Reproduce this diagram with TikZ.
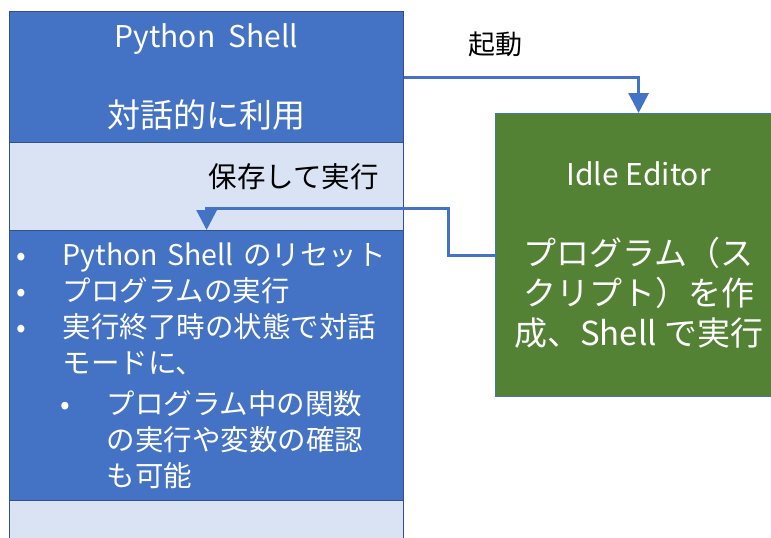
\documentclass[tikz,border=0pt]{standalone}
\usepackage{fontspec}
\setmainfont{Noto Sans CJK JP}
\usetikzlibrary{arrows.meta,positioning,calc}
\definecolor{shblue}{RGB}{68,114,196}
\definecolor{shdark}{RGB}{47,82,143}
\definecolor{shlight}{RGB}{218,227,243}
\definecolor{edgreen}{RGB}{84,130,53}

\newcommand{\topitem}[1]{\makebox[48pt][l]{\hspace{2pt}•}#1}
\newcommand{\nesteditem}[1]{\hspace{46pt}\makebox[46pt][l]{•}#1}
\newcommand{\bigjp}{\fontsize{33}{41}\selectfont}

\begin{document}
\begin{tikzpicture}[x=1pt,y=-1pt,
  bluebox/.style={draw=shdark, line width=1.2pt, fill=shblue, text=white,
    minimum width=394pt, inner sep=0pt, anchor=north west},
  lightbox/.style={draw=shdark, line width=1.2pt, fill=shlight,
    minimum width=394pt, inner sep=0pt, anchor=north west},
  flow/.style={draw=shblue, line width=3pt,
    -{Triangle[length=20pt,width=20pt]}},
  bigtext/.style={font=\fontsize{30}{40}\selectfont, align=center},
  listtext/.style={font=\fontsize{28.5}{36}\selectfont, align=left}]
\useasboundingbox (0,0) rectangle (771,538);
% Left column
\node[bluebox, bigtext, minimum height=131pt] (shell) at (9,11)
  {Python\ \ Shell\\[0pt] \\ {\bigjp 対話的に利用}};
\node[lightbox, minimum height=88pt] (band) at (9,142) {};
\node[bluebox, listtext, minimum height=270pt, text width=384pt] (reset) at (9,230)
  {\topitem{Python Shell のリセット}\\
   \topitem{プログラムの実行}\\
   \topitem{実行終了時の状態で対話}\\
   \hspace{48pt}モードに、\\[5pt]
   \nesteditem{プログラム中の関数}\\
   \hspace{92pt}の実行や変数の確認\\
   \hspace{92pt}も可能};
\node[lightbox, minimum height=48pt] (tail) at (9,500) {};
\node[listtext, anchor=east] (savelbl) at ([xshift=-22pt,yshift=10pt]band.east) {保存して実行};
% Editor
\node[draw=shblue, line width=1.2pt, fill=edgreen, text=white, bigtext,
  minimum width=286pt, minimum height=283pt, inner sep=0pt, anchor=north west]
  (editor) at (495,113)
  {Idle Editor\\ \\ \bigjp プログラム（ス\\ \bigjp クリプト）を作\\ \bigjp 成、Shell で実行\hspace{8pt}};
% Connectors
\draw[flow] (shell.east) -| (editor.north);
\node[font=\fontsize{27}{30}\selectfont] (startlbl) at (495,44) {起動};
\coordinate (bend) at (448,208);
\draw[flow] (editor.west) -| (bend) -| (reset.north);
\end{tikzpicture}
\end{document}
